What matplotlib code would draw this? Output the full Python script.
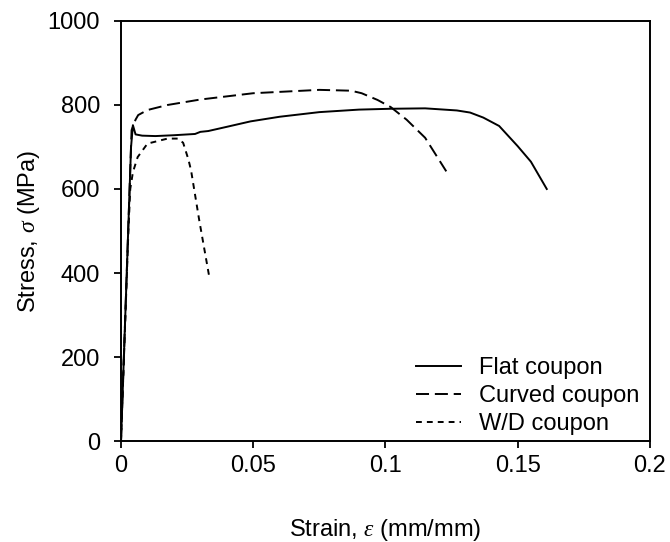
import numpy as np
import matplotlib
matplotlib.use("Agg")
import matplotlib.pyplot as plt

plt.rcParams['font.family'] = ['Liberation Sans', 'DejaVu Sans']
plt.rcParams['mathtext.fontset'] = 'custom'
plt.rcParams['mathtext.it'] = 'Liberation Serif:italic'
plt.rcParams['mathtext.rm'] = 'Liberation Sans'

# flat coupon (solid)
flat_strain = [0, 0.0038, 0.0045, 0.0055, 0.008, 0.013, 0.02, 0.028, 0.030, 0.033,
               0.040, 0.049, 0.060, 0.075, 0.090, 0.102, 0.115, 0.127, 0.132, 0.137,
               0.143, 0.150, 0.155, 0.161]
flat_stress = [0, 700, 752, 730, 727, 726, 728, 731, 736, 738,
               748, 761, 772, 783, 789, 791, 792, 787, 782, 770,
               750, 702, 665, 600]

# curved coupon (long dash)
curved_strain = [0, 0.004, 0.0055, 0.0065, 0.010, 0.0176, 0.030, 0.050, 0.075, 0.087,
                 0.091, 0.097, 0.102, 0.108, 0.115, 0.123]
curved_stress = [0, 740, 765, 776, 788, 800, 813, 828, 836, 834,
                 828, 812, 795, 765, 722, 642]

# W/D coupon (short dash)
wd_strain = [0, 0.0028, 0.0035, 0.0045, 0.0063, 0.010, 0.0176, 0.0215, 0.0235, 0.0255,
             0.0265, 0.0296, 0.0334]
wd_stress = [0, 500, 600, 640, 676, 708, 720, 720, 710, 670,
             644, 525, 390]

xticks = [0, 0.05, 0.1, 0.15, 0.2]
xtick_labels = ['0', '0.05', '0.1', '0.15', '0.2']
yticks = [0, 200, 400, 600, 800, 1000]

fig = plt.figure(figsize=(6.7, 5.42), dpi=100)
ax = fig.add_axes([0.1806, 0.1863, 0.7894, 0.775])

ax.plot(flat_strain, flat_stress, color='black', lw=1.4, label='Flat coupon')
ax.plot(curved_strain, curved_stress, color='black', lw=1.4, dashes=(6.7, 3),
        label='Curved coupon')
ax.plot(wd_strain, wd_stress, color='black', lw=1.4, dashes=(3, 2.6),
        label='W/D coupon')

ax.set_xlim(0, 0.2)
ax.set_ylim(0, 1000)
ax.set_xticks(xticks)
ax.set_xticklabels(xtick_labels)
ax.set_yticks(yticks)
ax.tick_params(direction='out', length=5, width=1.3, labelsize=17,
               top=False, right=False, colors='black')
ax.tick_params(axis='x', pad=5)
ax.tick_params(axis='y', pad=10)
for s in ax.spines.values():
    s.set_linewidth(1.4)

ax.set_xlabel(r'Strain, $\it{\varepsilon}$ (mm/mm)', fontsize=17, labelpad=29)
ax.set_ylabel(r'Stress, $\it{\sigma}$ (MPa)', fontsize=17, labelpad=4)

ax.legend(loc='lower right', frameon=False, fontsize=17, handlelength=1.9,
          handletextpad=0.75, labelspacing=0.25, borderaxespad=0.4,
          bbox_to_anchor=(1.015, -0.031))

fig.savefig('out.png', dpi=100)
